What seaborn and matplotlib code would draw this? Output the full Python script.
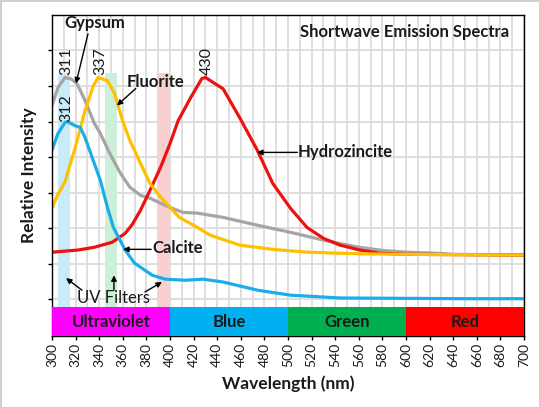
import numpy as np
import pandas as pd
import matplotlib
matplotlib.use("Agg")
import matplotlib.pyplot as plt
import seaborn as sns

# spectra (wavelength nm, relative intensity in grid units)
gypsum_nm = [300, 305, 311, 316, 321, 328, 336, 341, 349, 358, 366, 375, 383, 392, 400, 411,
             423, 434, 445, 474, 502, 530, 558, 580, 600, 626, 640, 670, 700]
gypsum_y = [5.45, 5.95, 6.24, 6.2, 6.08, 5.59, 4.94, 4.66, 4.10, 3.54, 3.15, 2.92, 2.84, 2.70,
            2.58, 2.44, 2.42, 2.36, 2.30, 2.08, 1.88, 1.66, 1.47, 1.37, 1.32, 1.29, 1.26, 1.25, 1.24]

fluorite_nm = [300, 305, 311, 319, 328, 335, 339, 347, 353, 360, 366, 375, 383, 392, 400, 408,
               423, 434, 459, 487, 516, 544, 570, 600, 650, 700]
fluorite_y = [2.56, 2.95, 3.3, 4.19, 5.31, 6.0, 6.24, 6.15, 5.79, 5.0, 4.47, 3.82, 3.26, 2.87,
              2.58, 2.30, 2.02, 1.80, 1.52, 1.40, 1.32, 1.29, 1.27, 1.26, 1.25, 1.24]

calcite_nm = [300, 305, 311, 313, 319, 324, 328, 334, 341, 347, 352, 362, 370, 385, 396, 413,
              428, 445, 474, 502, 544, 600, 650, 700]
calcite_y = [4.19, 4.66, 4.97, 5.0, 4.89, 4.83, 4.55, 3.99, 3.34, 2.58, 2.02, 1.38, 1.01, 0.67,
             0.56, 0.53, 0.56, 0.48, 0.25, 0.11, 0.03, 0.02, 0.01, 0.01]

hydrozincite_nm = [300, 322, 336, 351, 362, 368, 375, 383, 392, 400, 407, 418, 427, 430, 445,
                   459, 474, 487, 502, 516, 530, 544, 561, 578, 600, 650, 700]
hydrozincite_y = [1.32, 1.38, 1.46, 1.60, 1.85, 2.10, 2.50, 3.06, 3.71, 4.38, 5.03, 5.70, 6.21,
                  6.24, 5.92, 5.11, 4.19, 3.26, 2.56, 2.02, 1.71, 1.52, 1.38, 1.29, 1.26, 1.25, 1.24]

bands = ["Ultraviolet", "Blue", "Green", "Red"]
band_start = [300, 400, 500, 600]
band_colors = ["#ff00ff", "#00b0f0", "#00b050", "#ff0000"]

filter_nm = [305, 345, 390]
filter_colors = ["#c9ebf8", "#cdeed9", "#f9d0d0"]

peaks = ["311", "337", "312", "430"]

sns.set_theme(style="white")
plt.rcParams["font.family"] = ["Lato", "DejaVu Sans"]

fig = plt.figure(figsize=(5.4, 4.08), dpi=100, edgecolor="#d0d0d0", linewidth=2)
ax = fig.add_axes([0.0963, 0.1765, 0.8741, 0.7868])

# grid
ax.set_xticks(range(300, 701, 20))
ax.set_xticks(range(300, 701, 10), minor=True)
ax.set_yticks(range(0, 8))
ax.grid(True, which="both", color="#d9d9d9", linewidth=1.2, zorder=0)
ax.set_axisbelow(True)

# uv filter shading
ax.bar(filter_nm, 6.6, width=10, bottom=-0.22, align="edge", color=filter_colors,
       linewidth=0, zorder=1)

# colour band along the bottom
ax.bar(band_start, 0.82, width=100, bottom=-1.04, align="edge", color=band_colors,
       linewidth=0, zorder=3)
for name, x0 in zip(bands, band_start):
    ax.text(x0 + 50, -0.64, name, ha="center", va="center", fontsize=12,
            fontweight="bold", color="#1a1a1a", zorder=4)

series = [
    (gypsum_nm, gypsum_y, "#a5a5a5"),
    (hydrozincite_nm, hydrozincite_y, "#ee1111"),
    (fluorite_nm, fluorite_y, "#ffc000"),
    (calcite_nm, calcite_y, "#1aaee8"),
]
for xs, ys, c in series:
    sns.lineplot(x=xs, y=ys, color=c, linewidth=2.3, ax=ax, zorder=2)

ax.set_xlim(300, 700)
ax.set_ylim(-1.04, 8)

# peak labels
for txt, (px, py) in zip(peaks, [(311.9, 6.71), (340.7, 6.71), (311.9, 5.39), (431.4, 6.71)]):
    ax.text(px, py, txt, rotation=90, ha="center", va="center", fontsize=11.5, color="#1a1a1a")

arrow = dict(arrowstyle="-|>", color="black", lw=1, mutation_scale=8, shrinkA=0, shrinkB=0)
lab = dict(fontsize=12, fontweight="bold", color="#1a1a1a")

ax.text(336.4, 7.78, "Gypsum", ha="center", va="center", **lab)
ax.annotate("", xy=(320.3, 6.07), xytext=(330.5, 7.47), arrowprops=arrow)

ax.text(388, 6.10, "Fluorite", ha="center", va="center", **lab)
ax.annotate("", xy=(355, 5.45), xytext=(371, 5.93), arrowprops=arrow)

ax.text(508.5, 4.13, "Hydrozincite", ha="left", va="center", **lab)
ax.annotate("", xy=(473.7, 4.13), xytext=(508, 4.13), arrowprops=arrow)

ax.text(384.7, 1.43, "Calcite", ha="left", va="center", **lab)
ax.annotate("", xy=(360.2, 1.40), xytext=(384, 1.40), arrowprops=arrow)

ax.text(351.7, 0.03, "UV Filters", ha="center", va="center", fontsize=12, color="#1a1a1a")
ax.annotate("", xy=(311.9, 0.59), xytext=(325.4, 0.25), arrowprops=arrow)
ax.annotate("", xy=(352.5, 0.67), xytext=(352.5, 0.25), arrowprops=arrow)
ax.annotate("", xy=(393.2, 0.48), xytext=(378.8, 0.2), arrowprops=arrow)

ax.text(599, 7.53, "Shortwave Emission Spectra", ha="center", va="center", **lab)

for s in ax.spines.values():
    s.set_color("black")
    s.set_linewidth(1)
ax.tick_params(axis="x", which="major", bottom=True, length=3, width=1, color="black",
               labelsize=10, labelrotation=90, labelcolor="#1a1a1a", pad=2)
ax.tick_params(axis="y", left=True, length=3, width=1, color="black", labelleft=False)

ax.set_xlabel("Wavelength (nm)", fontsize=12.5, fontweight="bold", color="#1a1a1a", labelpad=6)
ax.set_ylabel("Relative Intensity", fontsize=12.5, fontweight="bold", color="#1a1a1a", labelpad=8)

fig.savefig("out.png", dpi=100)
